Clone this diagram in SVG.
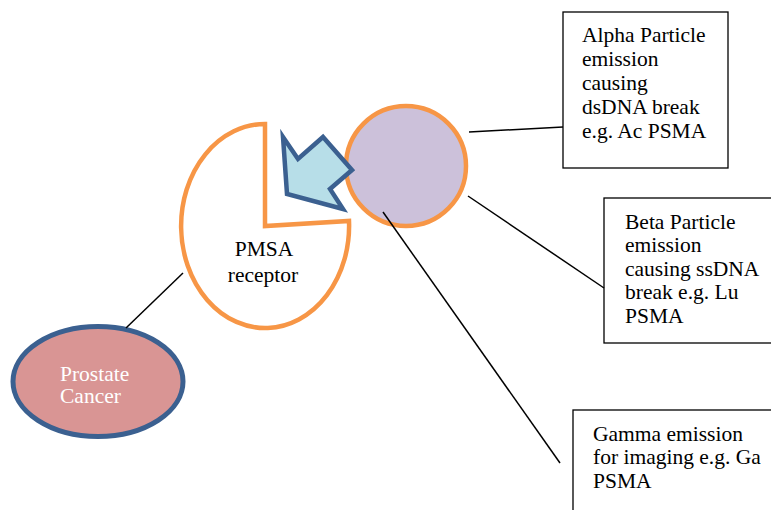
<svg xmlns="http://www.w3.org/2000/svg" width="771" height="510" viewBox="0 0 771 510">
<style>
.t{font-family:"Liberation Serif","Times New Roman",serif;font-size:21.5px;fill:#000}
.box{fill:#fff;stroke:#000;stroke-width:1.3}
.ln{stroke:#000;stroke-width:1.5;fill:none}
.org{stroke:#F79646;stroke-width:4.5}
</style>
<rect width="771" height="510" fill="#fff"/>
<g id="receptor">
<path class="org" fill="#fff" d="M265,124 L265,226 L349,221 A84,102 0 1 1 265,124 Z"/>
<text class="t" x="264" y="256" text-anchor="middle">PMSA</text>
<text class="t" x="263" y="282" text-anchor="middle">receptor</text>
</g>
<g id="particle">
<circle class="org" cx="406" cy="166" r="60" fill="#CCC1DA"/>
</g>
<g id="arrow">
<polygon points="283,137 298,159 323,137 352,170 330,189 343,209 287,194" fill="#B7DEE8" stroke="#3B6090" stroke-width="4.5" stroke-linejoin="miter"/>
</g>
<g id="prostate">
<ellipse cx="98" cy="381.5" rx="85" ry="55" fill="#D99594" stroke="#3B6090" stroke-width="5"/>
<text class="t" x="60" y="381" style="fill:#fff">Prostate</text>
<text class="t" x="60" y="403" style="fill:#fff">Cancer</text>
</g>
<g id="alpha">
<rect class="box" x="563" y="12" width="165" height="156"/>
<text class="t" x="582" y="42">Alpha Particle</text>
<text class="t" x="582" y="66">emission</text>
<text class="t" x="582" y="90">causing</text>
<text class="t" x="582" y="114">dsDNA break</text>
<text class="t" x="582" y="138">e.g. Ac PSMA</text>
</g>
<g id="beta">
<rect class="box" x="604" y="198" width="170" height="145"/>
<text class="t" x="625" y="229">Beta Particle</text>
<text class="t" x="625" y="252">emission</text>
<text class="t" x="625" y="276">causing ssDNA</text>
<text class="t" x="625" y="299">break e.g. Lu</text>
<text class="t" x="625" y="323">PSMA</text>
</g>
<g id="gamma">
<rect class="box" x="573" y="410" width="200" height="110"/>
<text class="t" x="593" y="441">Gamma emission</text>
<text class="t" x="593" y="464">for imaging e.g. Ga</text>
<text class="t" x="593" y="488">PSMA</text>
</g>
<g id="connectors">
<line class="ln" x1="183" y1="273" x2="126" y2="328"/>
<line class="ln" x1="469" y1="132" x2="563" y2="127"/>
<line class="ln" x1="468" y1="196" x2="604" y2="288"/>
<line class="ln" x1="383" y1="212" x2="560" y2="463"/>
</g>
</svg>
